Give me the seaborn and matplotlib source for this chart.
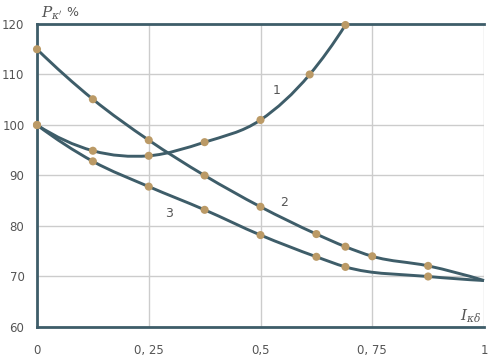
import numpy as np
import pandas as pd
import matplotlib
matplotlib.use("Agg")
import matplotlib.pyplot as plt
from matplotlib.path import Path
from matplotlib.patches import PathPatch
import seaborn as sns

# ---- data ----
x1 = [0, 0.125, 0.25, 0.375, 0.5, 0.61, 0.69]
y1 = [100, 94.9, 93.9, 96.6, 101, 110, 119.8]

x2 = [0, 0.125, 0.25, 0.375, 0.5, 0.625, 0.69, 0.75, 0.875, 1.0]
y2 = [115, 105.1, 97, 90, 83.8, 78.4, 75.9, 74, 72.1, 69.2]
m2 = [True, True, True, True, True, True, True, True, True, False]

x3 = [0, 0.125, 0.25, 0.375, 0.5, 0.625, 0.69, 0.875, 1.0]
y3 = [100, 92.8, 87.8, 83.2, 78.2, 73.9, 71.9, 70, 69.2]
m3 = [True, True, True, True, True, True, True, True, False]

curve_labels = ["1", "2", "3"]
label_x = [0.535, 0.553, 0.296]
label_y = [106.8, 84.6, 82.5]

xticks = [0, 0.25, 0.5, 0.75, 1]
xtick_labels = ["0", "0, 25", "0,5", "0, 75", "1"]
yticks = [60, 70, 80, 90, 100, 110, 120]

LINE = "#3e5d69"
MARK = "#bb9a66"
GRID = "#cccccc"
TXT = "#555555"

sns.set_style("white")
plt.rcParams["font.family"] = ["DejaVu Sans"]
plt.rcParams["mathtext.fontset"] = "dejavuserif"

fig = plt.figure(figsize=(5.0, 3.63), dpi=100)
ax = fig.add_axes([0.074, 0.0992, 0.894, 0.8347])


def smooth_path(xs, ys):
    x = np.asarray(xs, float)
    y = np.asarray(ys, float)
    n = len(x)
    h = np.diff(x)
    d = np.diff(y) / h
    m = np.zeros(n)
    for i in range(1, n - 1):
        m[i] = (h[i - 1] * d[i] + h[i] * d[i - 1]) / (h[i - 1] + h[i])
    if n > 2:
        m[0] = ((2 * h[0] + h[1]) * d[0] - h[0] * d[1]) / (h[0] + h[1])
        m[-1] = ((2 * h[-1] + h[-2]) * d[-1] - h[-1] * d[-2]) / (h[-1] + h[-2])
    else:
        m[:] = d[0]
    verts = [(x[0], y[0])]
    codes = [Path.MOVETO]
    for i in range(n - 1):
        hh = h[i] / 3.0
        verts += [(x[i] + hh, y[i] + hh * m[i]),
                  (x[i + 1] - hh, y[i + 1] - hh * m[i + 1]),
                  (x[i + 1], y[i + 1])]
        codes += [Path.CURVE4] * 3
    return Path(verts, codes)


for xs, ys in [(x1, y1), (x2, y2), (x3, y3)]:
    ax.add_patch(PathPatch(smooth_path(xs, ys), facecolor="none",
                           edgecolor=LINE, lw=2.1, zorder=3, clip_on=False))

frames = []
frames.append(pd.DataFrame({"x": x1, "y": y1}))
frames.append(pd.DataFrame({"x": x2, "y": y2})[m2])
frames.append(pd.DataFrame({"x": x3, "y": y3})[m3])
pts = pd.concat(frames, ignore_index=True)
sns.scatterplot(data=pts, x="x", y="y", ax=ax, color=MARK, s=34,
                edgecolor="none", zorder=4, clip_on=False)

for lab, lx, ly in zip(curve_labels, label_x, label_y):
    ax.text(lx, ly, lab, color=TXT, fontsize=9, ha="center", va="center")

ax.set_xlim(0, 1)
ax.set_ylim(60, 120)
ax.set_xticks(xticks)
ax.set_xticklabels(xtick_labels)
ax.set_yticks(yticks)
ax.tick_params(axis="both", length=5, width=1, color=GRID, labelsize=8.5,
               labelcolor=TXT, pad=4)
ax.tick_params(axis="x", pad=7)
ax.grid(True, color=GRID, lw=1)
ax.set_axisbelow(True)
ax.set_xlabel("")
ax.set_ylabel("")

for s in ["left", "bottom", "top"]:
    ax.spines[s].set_visible(True)
    ax.spines[s].set_color(LINE)
    ax.spines[s].set_linewidth(2)
ax.spines["right"].set_visible(False)

fig.text(0.082, 0.962, r"$P_{\kappa'}$", fontsize=11, color=TXT, ha="left", va="center")
fig.text(0.132, 0.966, "%", fontsize=9, color=TXT, ha="left", va="center")
fig.text(0.962, 0.130, r"$I_{\kappa\delta}$", fontsize=11, color=TXT, ha="right", va="center")

fig.savefig("out.png", dpi=100)
